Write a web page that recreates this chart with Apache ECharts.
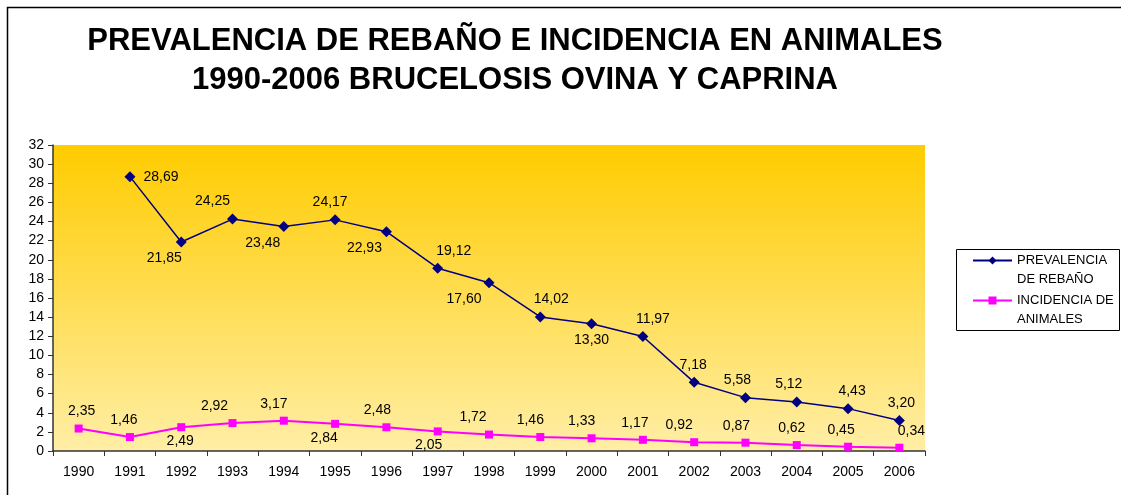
<!DOCTYPE html>
<html style="height: 100%">
<head>
    <meta charset="UTF-8">
    <title>Brucelosis</title>
    <script type="text/javascript" src="https://cdn.jsdelivr.net/npm/echarts@6/dist/echarts.min.js"></script>
</head>
<body style="height: 100%; margin: 0; background: #fff">
    <div id="container" style="width: 1121px; height: 495px"></div>
<script>
    var years = ['1990', '1991', '1992', '1993', '1994', '1995', '1996', '1997', '1998',
        '1999', '2000', '2001', '2002', '2003', '2004', '2005', '2006'];
    var prevalencia = [null, 28.69, 21.85, 24.25, 23.48, 24.17, 22.93, 19.12, 17.60,
        14.02, 13.30, 11.97, 7.18, 5.58, 5.12, 4.43, 3.20];
    var incidencia = [2.35, 1.46, 2.49, 2.92, 3.17, 2.84, 2.48, 2.05, 1.72,
        1.46, 1.33, 1.17, 0.92, 0.87, 0.62, 0.45, 0.34];

    // label placement, as in the original (labels were nudged by hand)
    var prevPos = ['top', 'right', 'bottom', 'top', 'bottom', 'top', 'bottom', 'top', 'bottom',
        'top', 'bottom', 'top', 'top', 'top', 'top', 'top', 'top'];
    var prevDx = [0, 0, -17, -20, -21, -5, -22, 16, -25, 11, 0, 10, -1, -8, -8, 4, 2];
    var incPos = ['top', 'top', 'bottom', 'top', 'top', 'bottom', 'top', 'bottom', 'top',
        'top', 'top', 'top', 'top', 'top', 'top', 'top', 'top'];
    var incDx = [3, -6, -1, -18, -10, -11, -9, -9, -16, -10, -10, -8, -15, -9, -5, -7, 12];

    function fmt(p) {
        return p.value.toFixed(2).replace('.', ',');
    }

    function withLabels(values, pos, dx, dist, distBelow) {
        return values.map(function (v, i) {
            if (v === null) return null;
            var d = dist;
            if (pos[i] === 'right') d = 8;
            if (pos[i] === 'bottom') d = distBelow;
            return { value: v, label: { position: pos[i], distance: d, offset: [dx[i], 0] } };
        });
    }

    var chart = echarts.init(document.getElementById('container'));
    var font = 'Arial, "Liberation Sans", sans-serif';

    var option = {
        backgroundColor: '#ffffff',
        animation: false,
        title: {
            text: 'PREVALENCIA DE REBAÑO E INCIDENCIA EN ANIMALES\n1990-2006 BRUCELOSIS OVINA Y CAPRINA',
            left: 510,
            top: 17,
            textAlign: 'center',
            textStyle: {
                fontFamily: font,
                fontSize: 31,
                fontWeight: 'bold',
                lineHeight: 39,
                color: '#000'
            }
        },
        graphic: [
            {
                type: 'rect',
                shape: { x: 7.5, y: 7.5, width: 1300, height: 600 },
                style: { fill: null, stroke: '#000', lineWidth: 1.5 },
                silent: true
            },
            {
                type: 'rect',
                shape: { x: 956.5, y: 249.5, width: 163, height: 81 },
                style: { fill: '#fff', stroke: '#000', lineWidth: 1 },
                z: -1,
                silent: true
            }
        ],
        legend: {
            orient: 'vertical',
            left: 972,
            top: 232,
            padding: 0,
            itemWidth: 39,
            itemHeight: 10,
            itemGap: -17,
            data: ['PREVALENCIA DE REBAÑO', 'INCIDENCIA DE ANIMALES'],
            formatter: function (name) {
                // empty first line keeps the marker level with the first text line
                return name === 'PREVALENCIA DE REBAÑO' ? ' \nPREVALENCIA\nDE REBAÑO' : ' \nINCIDENCIA DE\nANIMALES';
            },
            textStyle: {
                fontFamily: font,
                fontSize: 13,
                lineHeight: 19,
                color: '#000'
            }
        },
        grid: {
            left: 53,
            right: 196,
            top: 145,
            bottom: 44,
            show: true,
            borderWidth: 0,
            backgroundColor: new echarts.graphic.LinearGradient(0, 0, 0, 1, [
                { offset: 0, color: '#ffcc00' },
                { offset: 1, color: '#ffeea6' }
            ])
        },
        xAxis: {
            type: 'category',
            data: years,
            boundaryGap: true,
            axisLine: { lineStyle: { color: '#333', width: 1.5 } },
            axisTick: { show: true, length: 5, lineStyle: { color: '#333' } },
            axisLabel: { fontFamily: font, fontSize: 14, color: '#000', margin: 14 },
            splitLine: { show: false }
        },
        yAxis: {
            type: 'value',
            min: 0,
            max: 32,
            interval: 2,
            axisLine: { show: true, lineStyle: { color: '#333', width: 1.5 } },
            axisTick: { show: true, length: 5, lineStyle: { color: '#333' } },
            axisLabel: { fontFamily: font, fontSize: 14, color: '#000', margin: 9 },
            splitLine: { show: false }
        },
        series: [
            {
                name: 'PREVALENCIA DE REBAÑO',
                type: 'line',
                data: withLabels(prevalencia, prevPos, prevDx, 5, 4),
                symbol: 'diamond',
                symbolSize: 11,
                connectNulls: false,
                itemStyle: { color: '#000080' },
                lineStyle: { color: '#000080', width: 1.5 },
                label: {
                    show: true,
                    formatter: fmt,
                    fontFamily: font,
                    fontSize: 14,
                    color: '#000'
                }
            },
            {
                name: 'INCIDENCIA DE ANIMALES',
                type: 'line',
                data: withLabels(incidencia, incPos, incDx, 6, 3),
                symbol: 'rect',
                symbolSize: 8,
                itemStyle: { color: '#ff00ff' },
                lineStyle: { color: '#ff00ff', width: 2 },
                label: {
                    show: true,
                    formatter: fmt,
                    fontFamily: font,
                    fontSize: 14,
                    color: '#000'
                }
            }
        ]
    };
    chart.setOption(option);
</script>
</body>
</html>
